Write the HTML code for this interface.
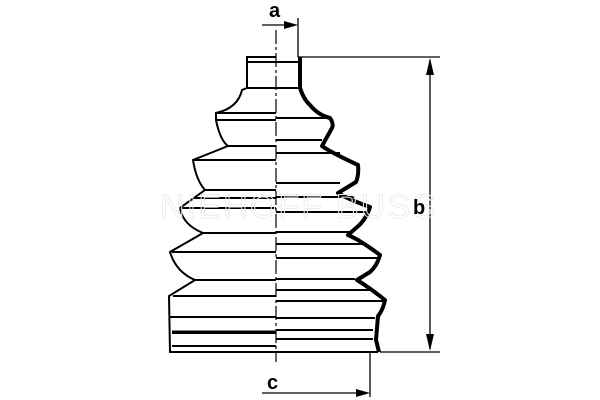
<!DOCTYPE html>
<html><head><style>html,body{margin:0;padding:0;background:#fff}svg{display:block}</style></head>
<body>
<svg width="600" height="400" viewBox="0 0 600 400" xmlns="http://www.w3.org/2000/svg">
<g fill="none" stroke="#000" stroke-width="2">
<!-- left silhouette -->
<path d="M276 57 L247 57 L247 88 L242 90 Q238 108 216 113 L216 120 Q220 140 228 146 L193 160 Q196 180 205 190 L180 208 Q183 225 203 233 L170 252 Q176 272 195 280 L169 296 L170 352 L276 352"/>
<!-- left horizontals -->
<path d="M247 62 H276 M247 88 H276 M216 113 H276 M216 120 H276 M228 146 H276 M193 160 H276 M205 190 H276 M193 198 H276 M182 208 H276 M203 233 H276 M172 252 H276 M195 280 H276 M173 296 H276 M170 317 H276 M172 333 H276 M172 346 H276"/>
<path d="M172 332 H276" stroke-width="3"/>
<!-- right horizontals -->
<path d="M276 62 H300 M276 88 H300 M276 118 H330 M276 140 H322 M276 153 H340 M276 183 H340 M276 197 H355 M276 212 H368 M276 232 H352 M276 244 H365 M276 258 H378 M276 279 H355 M276 290 H370 M276 301 H383 M276 318 H375 M276 330 H373 M276 339 H373 M276 352 H378"/>
<!-- right thick profile -->
<path stroke-width="4" stroke-linejoin="round" d="M300 57 L300 88 Q304 100 310 105 Q318 115 330 118 Q334 124 332 128 L322 146 Q330 152 358 165 Q359 175 356 182 L338 193 Q350 200 370 207 Q366 220 356 228 L348 235 Q360 240 380 255 Q377 266 370 272 L357 280 Q370 288 385 300 Q383 310 378 316 L376 340 L379 352"/>
<!-- axis -->
<path d="M276 30 V362" stroke-width="1.2" stroke-dasharray="14 3 3 3"/>
<!-- dimension lines -->
<path d="M298 18 V57 M298 57 H440 M380 352 H440 M430 60 V349 M370 352 V397" stroke-width="1.3"/>
<path d="M262 25 H292 M262 393 H364" stroke-width="1.3"/>
</g>
<g fill="#000">
<path d="M298 25 L284 21 L284 29 Z"/>
<path d="M370 393 L356 389 L356 397 Z"/>
<path d="M430 58 L426 75 L434 75 Z"/>
<path d="M430 351 L426 334 L434 334 Z"/>
</g>
<text x="160" y="218" font-family="Liberation Sans, sans-serif" font-size="34" fill="none" stroke="#ececec" stroke-width="1" textLength="275">NIEHOFF BUSS</text>
<g font-family="Liberation Sans, sans-serif" font-weight="bold" font-size="20" fill="#000">
<text x="269" y="17">a</text>
<text x="413" y="214">b</text>
<text x="267" y="389">c</text>
</g>
</svg>
</body></html>
